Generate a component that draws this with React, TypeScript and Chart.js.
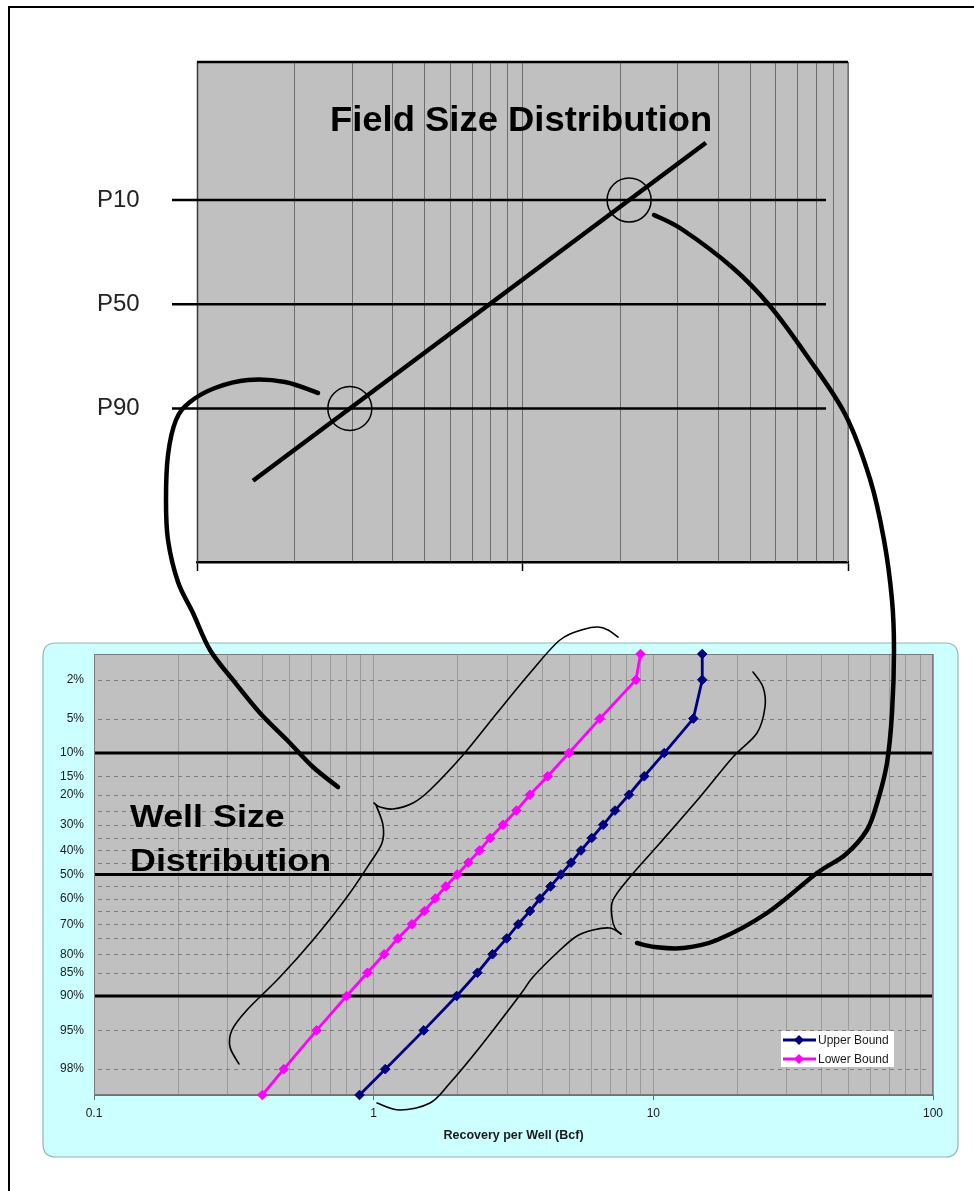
import React, { useEffect, useRef } from "react";
import { Chart, registerables } from "chart.js";

Chart.register(...registerables);

const W = 974;
const H = 1191;
const FONT = "'Liberation Sans', Arial, Helvetica, sans-serif";

// ---------- Well size distribution (bottom chart) ----------
const exceedancePct = [1, 2, 5, 10, 15, 20, 25, 30, 35, 40, 45, 50, 55, 60, 65, 70, 75, 80, 85, 90, 95, 98, 99];
const upperBound = [14.96, 14.96, 13.9, 10.94, 9.28, 8.18, 7.29, 6.62, 6.02, 5.51, 5.08, 4.67, 4.29, 3.93, 3.62, 3.29, 2.99, 2.66, 2.35, 1.98, 1.51, 1.1, 0.89];
const lowerBound = [9.0, 8.67, 6.44, 4.99, 4.19, 3.62, 3.24, 2.9, 2.61, 2.39, 2.18, 1.99, 1.81, 1.66, 1.52, 1.37, 1.22, 1.09, 0.95, 0.8, 0.625, 0.477, 0.4];
const seriesNames = ["Upper Bound", "Lower Bound"];
const seriesColors = ["#000080", "#ff00ff"];
const probTickLabels = [2, 5, 10, 15, 20, 30, 40, 50, 60, 70, 80, 85, 90, 95, 98];
const probGridDashed = [2, 5, 15, 20, 25, 30, 35, 40, 45, 55, 60, 65, 70, 75, 80, 85, 95, 98];
const probGridBold = [10, 50, 90];
const recoveryRange = [0.1, 100];
const recoveryAxisTitle = "Recovery per Well (Bcf)";
const wellTitleLines = ["Well Size", "Distribution"];

// ---------- Field size distribution (top chart) ----------
const fieldTitle = "Field Size Distribution";
const fieldPercentiles = [10, 50, 90];
const fieldPercentileLabels = ["P10", "P50", "P90"];
const fieldSizeEnds = [1.486, 36.6];
const fieldSizeEndPct = [98.5, 2.35];
const fieldCircledPct = [90, 10];
const fieldRange = [1, 100];

// ---------- Hand-drawn overlay strokes (page pixels) ----------
const connectorStrokes: number[][][] = [
  [[318, 393], [285, 382], [248, 380], [215, 388], [190, 402], [176, 420], [168, 455], [166, 500], [168, 540], [178, 582], [193, 613], [210, 650], [233, 680], [260, 713], [287, 740], [313, 767], [338, 787]],
  [[654, 215], [683, 230], [733, 268], [770, 306], [807, 356], [845, 414], [870, 479], [884, 540], [892, 600], [894, 650], [892, 713], [887, 763], [878, 800], [867, 830], [845, 855], [817, 873], [767, 913], [717, 940], [683, 948], [655, 947], [637, 943]],
];
const braceStrokes: number[][][] = [
  [[618, 637], [608, 630], [598, 627], [585, 629], [560, 640], [530, 673], [497, 713], [463, 755], [430, 790], [413, 803], [393, 809], [380, 807], [374, 803]],
  [[376, 805], [383, 825], [382, 843], [370, 863], [347, 897], [313, 940], [280, 977], [247, 1010], [232, 1030], [230, 1047], [239, 1064]],
  [[753, 672], [763, 687], [765, 707], [757, 733], [733, 757], [700, 797], [660, 843], [630, 877], [613, 900], [612, 917], [615, 928], [621, 934]],
  [[621, 934], [610, 928], [593, 930], [577, 936], [560, 950], [533, 977], [520, 995], [480, 1047], [450, 1083], [430, 1103], [400, 1110], [377, 1103]],
];

// inverse standard normal CDF (Acklam)
function invNorm(p: number): number {
  const a = [-3.969683028665376e1, 2.209460984245205e2, -2.759285104469687e2, 1.38357751867269e2, -3.066479806614716e1, 2.506628277459239];
  const b = [-5.447609879822406e1, 1.615858368580409e2, -1.556989798598866e2, 6.680131188771972e1, -1.328068155288572e1];
  const c = [-7.784894002430293e-3, -3.223964580411365e-1, -2.400758277161838, -2.549732539343734, 4.374664141464968, 2.938163982698783];
  const d = [7.784695709041462e-3, 3.224671290700398e-1, 2.445134137142996, 3.754408661907416];
  const pl = 0.02425;
  let q: number, r: number;
  if (p < pl) {
    q = Math.sqrt(-2 * Math.log(p));
    return (((((c[0] * q + c[1]) * q + c[2]) * q + c[3]) * q + c[4]) * q + c[5]) / ((((d[0] * q + d[1]) * q + d[2]) * q + d[3]) * q + 1);
  }
  if (p <= 1 - pl) {
    q = p - 0.5;
    r = q * q;
    return ((((((a[0] * r + a[1]) * r + a[2]) * r + a[3]) * r + a[4]) * r + a[5]) * q) / (((((b[0] * r + b[1]) * r + b[2]) * r + b[3]) * r + b[4]) * r + 1);
  }
  q = Math.sqrt(-2 * Math.log(1 - p));
  return -(((((c[0] * q + c[1]) * q + c[2]) * q + c[3]) * q + c[4]) * q + c[5]) / ((((d[0] * q + d[1]) * q + d[2]) * q + d[3]) * q + 1);
}
// exceedance percentage -> normal score (small percentages on top)
const zOf = (pct: number) => invNorm(1 - pct / 100);

function logTicks(min: number, max: number) {
  const out: { value: number }[] = [];
  for (let e = Math.floor(Math.log10(min)); e <= Math.ceil(Math.log10(max)); e++) {
    for (let m = 1; m <= 9; m++) {
      const v = parseFloat((m * Math.pow(10, e)).toPrecision(6));
      if (v >= min * 0.9999 && v <= max * 1.0001) out.push({ value: v });
    }
  }
  return out;
}
const isDecade = (v: number) => Math.abs(Math.log10(v) - Math.round(Math.log10(v))) < 1e-6;

function smoothStroke(ctx: CanvasRenderingContext2D, pts: number[][]) {
  ctx.beginPath();
  ctx.moveTo(pts[0][0], pts[0][1]);
  for (let i = 0; i < pts.length - 1; i++) {
    const p0 = pts[i - 1] || pts[i];
    const p1 = pts[i];
    const p2 = pts[i + 1];
    const p3 = pts[i + 2] || p2;
    ctx.bezierCurveTo(
      p1[0] + (p2[0] - p0[0]) / 6, p1[1] + (p2[1] - p0[1]) / 6,
      p2[0] - (p3[0] - p1[0]) / 6, p2[1] - (p3[1] - p1[1]) / 6,
      p2[0], p2[1]
    );
  }
  ctx.stroke();
}

function stretchedText(ctx: CanvasRenderingContext2D, text: string, x: number, y: number, sx: number) {
  ctx.save();
  ctx.translate(x, y);
  ctx.scale(sx, 1);
  ctx.fillText(text, 0, 0);
  ctx.restore();
}

function roundRect(ctx: CanvasRenderingContext2D, x: number, y: number, w: number, h: number, r: number) {
  ctx.beginPath();
  ctx.moveTo(x + r, y);
  ctx.lineTo(x + w - r, y);
  ctx.quadraticCurveTo(x + w, y, x + w, y + r);
  ctx.lineTo(x + w, y + h - r);
  ctx.quadraticCurveTo(x + w, y + h, x + w - r, y + h);
  ctx.lineTo(x + r, y + h);
  ctx.quadraticCurveTo(x, y + h, x, y + h - r);
  ctx.lineTo(x, y + r);
  ctx.quadraticCurveTo(x, y, x + r, y);
  ctx.closePath();
}

const topDecor = {
  id: "topDecor",
  beforeDraw(chart: any) {
    const { ctx, chartArea: ca } = chart;
    ctx.save();
    ctx.fillStyle = "#c0c0c0";
    ctx.fillRect(ca.left, ca.top, ca.right - ca.left, ca.bottom - ca.top);
    ctx.restore();
  },
  beforeDatasetsDraw(chart: any) {
    const { ctx, chartArea: ca } = chart;
    const y = chart.scales.y;
    ctx.save();
    // frame
    ctx.strokeStyle = "#3a3a3a";
    ctx.lineWidth = 1.5;
    ctx.beginPath();
    ctx.moveTo(ca.left + 0.5, ca.top);
    ctx.lineTo(ca.left + 0.5, ca.bottom);
    ctx.stroke();
    ctx.strokeStyle = "#8c8c8c";
    ctx.lineWidth = 1;
    ctx.beginPath();
    ctx.moveTo(ca.right - 0.5, ca.top);
    ctx.lineTo(ca.right - 0.5, ca.bottom);
    ctx.stroke();
    ctx.strokeStyle = "#000";
    ctx.lineWidth = 2.5;
    ctx.beginPath();
    ctx.moveTo(ca.left, ca.top);
    ctx.lineTo(ca.right, ca.top);
    ctx.stroke();
    // percentile lines
    ctx.lineWidth = 2.5;
    fieldPercentiles.forEach((p) => {
      const py = y.getPixelForValue(zOf(p));
      ctx.beginPath();
      ctx.moveTo(ca.left - 25, py);
      ctx.lineTo(ca.right - 22, py);
      ctx.stroke();
    });
    // title
    ctx.fillStyle = "#000";
    ctx.font = `bold 35px ${FONT}`;
    ctx.textBaseline = "alphabetic";
    ctx.textAlign = "left";
    stretchedText(ctx, fieldTitle, ca.left + 133, ca.top + 69, 1.04);
    ctx.restore();
  },
};

const bottomDecor = {
  id: "bottomDecor",
  beforeDraw(chart: any) {
    const { ctx, chartArea: ca } = chart;
    ctx.save();
    roundRect(ctx, ca.left - 51, ca.top - 11, ca.right - ca.left + 76, ca.bottom - ca.top + 73, 13);
    ctx.fillStyle = "#ccffff";
    ctx.fill();
    ctx.strokeStyle = "#93b4b8";
    ctx.lineWidth = 1.2;
    ctx.stroke();
    ctx.fillStyle = "#c0c0c0";
    ctx.fillRect(ca.left, ca.top, ca.right - ca.left, ca.bottom - ca.top);
    ctx.restore();
  },
  beforeDatasetsDraw(chart: any) {
    const { ctx, chartArea: ca } = chart;
    const y = chart.scales.y;
    ctx.save();
    ctx.strokeStyle = "#7c7c7c";
    ctx.lineWidth = 1;
    ctx.setLineDash([4, 4]);
    probGridDashed.forEach((p) => {
      const py = Math.round(y.getPixelForValue(zOf(p))) + 0.5;
      ctx.beginPath();
      ctx.moveTo(ca.left + 4, py);
      ctx.lineTo(ca.right - 4, py);
      ctx.stroke();
    });
    ctx.setLineDash([]);
    ctx.strokeStyle = "#000";
    ctx.lineWidth = 3;
    probGridBold.forEach((p) => {
      const py = y.getPixelForValue(zOf(p));
      ctx.beginPath();
      ctx.moveTo(ca.left, py);
      ctx.lineTo(ca.right, py);
      ctx.stroke();
    });
    ctx.strokeStyle = "#7a7a7a";
    ctx.lineWidth = 1;
    ctx.strokeRect(ca.left + 0.5, ca.top + 0.5, ca.right - ca.left - 1, ca.bottom - ca.top - 1);
    ctx.restore();
  },
  afterDraw(chart: any) {
    const { ctx, chartArea: ca } = chart;
    ctx.save();
    // legend
    const lx = ca.right - 152;
    const ly = ca.bottom - 64;
    ctx.fillStyle = "#ffffff";
    ctx.fillRect(lx, ly, 113, 36);
    chart.data.datasets.forEach((ds: any, i: number) => {
      const cy = ly + 9 + i * 19;
      ctx.strokeStyle = ds.borderColor;
      ctx.lineWidth = 3;
      ctx.beginPath();
      ctx.moveTo(lx + 2, cy);
      ctx.lineTo(lx + 35, cy);
      ctx.stroke();
      ctx.fillStyle = ds.borderColor;
      ctx.beginPath();
      ctx.moveTo(lx + 18, cy - 5);
      ctx.lineTo(lx + 23, cy);
      ctx.lineTo(lx + 18, cy + 5);
      ctx.lineTo(lx + 13, cy);
      ctx.closePath();
      ctx.fill();
      ctx.fillStyle = "#1a1a1a";
      ctx.font = `12px ${FONT}`;
      ctx.textAlign = "left";
      ctx.textBaseline = "middle";
      ctx.fillText(ds.label, lx + 37, cy + 0.5);
    });
    // "Well Size Distribution"
    ctx.fillStyle = "#000";
    ctx.font = `bold 32px ${FONT}`;
    ctx.textBaseline = "alphabetic";
    ctx.textAlign = "left";
    wellTitleLines.forEach((t, i) => stretchedText(ctx, t, ca.left + 36, ca.top + 173 + i * 44, 1.12));
    // braces
    ctx.strokeStyle = "#000";
    ctx.lineCap = "round";
    ctx.lineJoin = "round";
    ctx.lineWidth = 1.6;
    braceStrokes.forEach((s) => smoothStroke(ctx, s));
    // connectors
    ctx.lineWidth = 4.5;
    connectorStrokes.forEach((s) => smoothStroke(ctx, s));
    ctx.restore();
  },
};

export default function App() {
  const topRef = useRef<HTMLCanvasElement>(null);
  const botRef = useRef<HTMLCanvasElement>(null);

  useEffect(() => {
    const lx1 = Math.log10(fieldSizeEnds[0]);
    const lx2 = Math.log10(fieldSizeEnds[1]);
    const z1 = zOf(fieldSizeEndPct[0]);
    const z2 = zOf(fieldSizeEndPct[1]);
    const circlePts = fieldCircledPct.map((p) => {
      const z = zOf(p);
      return { x: Math.pow(10, lx1 + ((z - z1) * (lx2 - lx1)) / (z2 - z1)), y: z };
    });

    const topChart = new Chart(topRef.current as HTMLCanvasElement, {
      type: "scatter",
      data: {
        datasets: [
          {
            label: "Field size",
            data: fieldSizeEnds.map((v, i) => ({ x: v, y: zOf(fieldSizeEndPct[i]) })),
            showLine: true,
            borderColor: "#000",
            borderWidth: 4.5,
            pointRadius: 0,
            pointHoverRadius: 0,
            clip: false,
          },
          {
            label: "Circled",
            data: circlePts,
            showLine: false,
            pointStyle: "circle",
            pointRadius: 22,
            pointHoverRadius: 22,
            pointBorderWidth: 1.5,
            pointBorderColor: "#000",
            pointBackgroundColor: "rgba(0,0,0,0)",
            clip: false,
          },
        ],
      } as any,
      options: {
        responsive: false,
        animation: false,
        devicePixelRatio: 1,
        events: [],
        layout: { padding: { top: 62, right: 126, left: 97, bottom: 609 } },
        plugins: { legend: { display: false }, tooltip: { enabled: false } },
        scales: {
          x: {
            type: "logarithmic",
            min: fieldRange[0],
            max: fieldRange[1],
            afterBuildTicks: (s: any) => { s.ticks = logTicks(fieldRange[0], fieldRange[1]); },
            afterFit: (s: any) => { s.height = 20; },
            grid: {
              color: "#6e6e6e",
              lineWidth: 1,
              drawTicks: true,
              tickLength: 9,
              tickWidth: 1.5,
              tickColor: (c: any) => (c.tick && isDecade(c.tick.value) ? "#000" : "rgba(0,0,0,0)"),
            },
            border: { display: true, color: "#000", width: 2.5 },
            ticks: { autoSkip: false, maxRotation: 0, padding: 0, callback: () => "" },
          },
          y: {
            type: "linear",
            min: -3.17,
            max: 2.98,
            afterFit: (s: any) => { s.width = 100; },
            afterBuildTicks: (s: any) => { s.ticks = fieldPercentiles.map((p) => ({ value: zOf(p) })); },
            grid: { display: false, drawTicks: false },
            border: { display: false },
            ticks: {
              autoSkip: false,
              padding: 0,
              crossAlign: "far",
              color: "#222",
              font: { family: FONT, size: 24 },
              callback: (_v: any, i: number) => fieldPercentileLabels[i],
            },
          },
        },
      } as any,
      plugins: [topDecor],
    });

    const bottomChart = new Chart(botRef.current as HTMLCanvasElement, {
      type: "scatter",
      data: {
        datasets: [upperBound, lowerBound].map((vals, k) => ({
          label: seriesNames[k],
          data: exceedancePct.map((p, i) => ({ x: vals[i], y: zOf(p) })),
          showLine: true,
          borderColor: seriesColors[k],
          backgroundColor: seriesColors[k],
          borderWidth: 2.8,
          tension: 0,
          pointStyle: "rectRot",
          pointRadius: 4.8,
          pointHoverRadius: 4.8,
          pointBorderWidth: 1,
          pointBorderColor: seriesColors[k],
          pointBackgroundColor: seriesColors[k],
          clip: false,
        })),
      } as any,
      options: {
        responsive: false,
        animation: false,
        devicePixelRatio: 1,
        events: [],
        layout: { padding: { top: 654, right: 41, left: 0, bottom: 47.5 } },
        plugins: { legend: { display: false }, tooltip: { enabled: false } },
        scales: {
          x: {
            type: "logarithmic",
            min: recoveryRange[0],
            max: recoveryRange[1],
            afterBuildTicks: (s: any) => { s.ticks = logTicks(recoveryRange[0], recoveryRange[1]); },
            afterFit: (s: any) => { s.height = 48.5; },
            grid: {
              color: "#9a9a9a",
              lineWidth: 1,
              drawTicks: true,
              tickLength: 5,
              tickColor: (c: any) => (c.tick && isDecade(c.tick.value) ? "#6a6a6a" : "rgba(0,0,0,0)"),
            },
            border: { display: true, color: "#707070", width: 1 },
            ticks: {
              autoSkip: false,
              maxRotation: 0,
              padding: 6,
              color: "#1a1a1a",
              font: { family: FONT, size: 12 },
              callback: (v: any) => (isDecade(Number(v)) ? String(Number(v)) : ""),
            },
            title: {
              display: true,
              text: recoveryAxisTitle,
              color: "#1a1a1a",
              font: { family: FONT, size: 12.5, weight: "bold" },
              padding: 0,
            },
          },
          y: {
            type: "linear",
            min: zOf(99),
            max: zOf(1),
            afterFit: (s: any) => { s.width = 94; },
            afterBuildTicks: (s: any) => { s.ticks = probTickLabels.map((p) => ({ value: zOf(p) })); },
            grid: { display: false, drawTicks: false },
            border: { display: false },
            ticks: {
              autoSkip: false,
              padding: 10,
              color: "#1a1a1a",
              font: { family: FONT, size: 12 },
              callback: (_v: any, i: number) => `${probTickLabels[i]}%`,
            },
          },
        },
      } as any,
      plugins: [bottomDecor],
    });

    return () => {
      topChart.destroy();
      bottomChart.destroy();
    };
  }, []);

  const canvasStyle: React.CSSProperties = { position: "absolute", left: 0, top: 0, width: W, height: H };
  return (
    <div style={{ position: "absolute", left: 0, top: 0, width: W, height: H, background: "#fff", overflow: "hidden" }}>
      <div style={{ position: "absolute", left: 8, top: 6, width: W, height: H, borderLeft: "2.5px solid #000", borderTop: "2px solid #000" }} />
      <canvas ref={topRef} width={W} height={H} style={canvasStyle} />
      <canvas ref={botRef} width={W} height={H} style={canvasStyle} />
    </div>
  );
}
